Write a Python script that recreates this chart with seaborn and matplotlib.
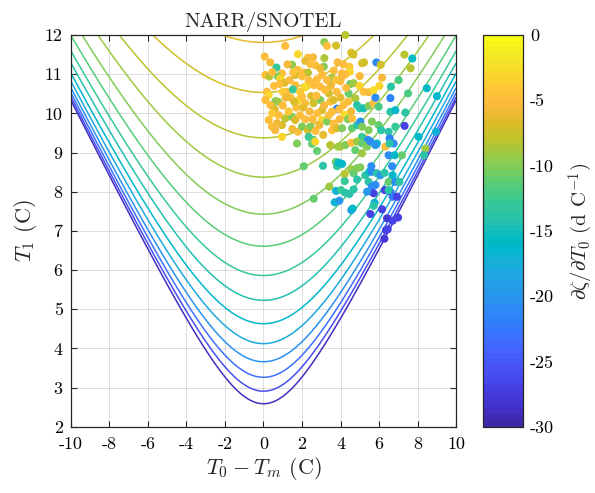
"""
Snowmelt-timing sensitivity, NARR/SNOTEL sites.

Contours: d(zeta)/dT0 of the seasonal-cycle melt model, plotted over
(T0 - Tm, T1).  Dots: individual SNOTEL sites, coloured by their fitted
sensitivity.  Writes out.png.
"""
import numpy as np
import pandas as pd
import matplotlib
matplotlib.use("Agg")
import matplotlib.pyplot as plt
from matplotlib.colors import ListedColormap, Normalize
from matplotlib.cm import ScalarMappable
import seaborn as sns


# ----------------------------------------------------------------------
# Data
# ----------------------------------------------------------------------
# melt-model scale (days) and the contour levels drawn (d C^-1)
MELT_SCALE_DAYS = 75.0
SENS_LEVELS = [-29.0, -25.8, -23.0, -20.5, -18.2, -16.2, -14.35,
               -12.8, -11.35, -10.1, -8.96, -8.0, -7.12, -6.35]

# site T0 - Tm (C)
site_dT = [
    4.25, 1.13, 3.16, 3.30, 3.77, 1.79, 2.31, 2.57, 2.17, 3.16,
    4.56, 4.67, 5.86, 6.09, 7.32, 7.73, 7.64, 0.06, 5.12, 5.22,
    2.43, 2.69, 1.48, 0.67, 1.78, 2.12, 2.31, 3.13, 3.65, 4.08,
    4.46, 4.48, 4.25, 3.56, 3.61, 3.04, 2.78, 1.65, 0.96, 0.75,
    0.10, 0.30, 0.87, 1.10, 1.65, 2.26, 2.14, 2.62, 2.95, 3.99,
    4.08, 4.51, 4.68, 4.99, 5.20, 5.46, 5.72, 6.02, 6.16, 6.62,
    7.02, 7.51, 8.48, 6.59, 9.01, 0.18, 0.27, 0.62, 0.75, 0.36,
    0.58, 0.10, 1.22, 1.53, 1.83, 2.00, 2.17, 2.48, 2.60, 2.95,
    3.04, 3.39, 3.47, 3.64, 3.82, 3.94, 3.56, 4.16, 4.39, 4.42,
    4.77, 4.86, 5.00, 5.20, 5.46, 5.72, 5.98, 5.81, 6.59, 6.85,
    7.37, 0.27, 0.44, 0.61, 0.96, 0.96, 1.13, 1.48, 1.65, 1.79,
    2.17, 2.00, 2.31, 2.43, 2.35, 2.60, 3.04, 3.30, 3.64, 3.56,
    3.82, 4.08, 4.22, 4.39, 4.60, 4.60, 4.86, 5.03, 5.12, 5.29,
    5.12, 5.46, 5.63, 5.98, 6.11, 6.50, 6.85, 7.33, 8.06, 8.96,
    5.43, 5.89, 6.55, 6.76, 1.74, 2.52, 2.69, 3.47, 3.99, 4.25,
    4.56, 4.86, 5.12, 5.38, 5.55, 5.81, 6.33, 6.55, 2.78, 3.87,
    4.77, 5.12, 6.50, 6.81, 7.19, 8.41, 8.34, 2.09, 3.09, 3.76,
    3.82, 3.90, 4.08, 4.22, 4.56, 4.68, 4.86, 5.03, 5.29, 5.50,
    5.60, 5.63, 5.89, 6.07, 6.29, 6.50, 6.68, 6.71, 6.85, 7.06,
    4.22, 4.86, 5.46, 5.81, 5.63, 5.72, 6.30, 6.59, 6.71, 6.93,
    6.50, 5.38, 3.42, 3.77, 4.03, 4.25, 4.46, 4.68, 2.61, 3.70,
    3.94, 4.56, 4.63, 5.77, 5.72, 5.55, 6.16, 6.42, 6.71, 6.99,
    6.36, 6.45, 6.28, 1.40, 1.00, 1.30, 1.70, 2.80, 3.20, 3.50,
    3.80, 2.40, 2.00, 1.90, 2.70, 3.10, 0.80, 1.50, 4.00, 3.30,
    1.25, 1.00, 0.55, 0.45, 0.85, 1.35, 1.90, 2.35, 2.75, 3.15,
    3.40, 3.75, 4.30, 4.55, 2.05, 1.60, 1.15, 0.45, 0.70, 2.55,
    2.90, 3.95, 4.15, 1.55, 2.95, 3.85, 0.35, 5.00,
]

# site T1 (C)
site_T1 = [
    12.00, 11.72, 11.82, 11.72, 11.73, 11.51, 11.42, 11.43, 11.34, 11.41,
    11.55, 11.50, 11.30, 11.24, 11.50, 11.40, 11.15, 11.45, 11.28, 11.30,
    11.26, 11.23, 11.24, 11.17, 11.11, 11.04, 11.04, 11.19, 11.09, 11.02,
    11.19, 11.06, 10.99, 10.91, 10.83, 10.98, 10.87, 10.98, 11.02, 10.94,
    10.98, 10.94, 10.89, 10.78, 10.72, 10.70, 10.66, 10.72, 10.68, 10.82,
    10.94, 10.75, 10.77, 10.70, 10.55, 10.54, 10.59, 10.70, 10.91, 10.68,
    10.85, 10.51, 10.64, 10.39, 10.44, 10.55, 10.47, 10.31, 10.30, 10.21,
    10.10, 10.34, 10.55, 10.61, 10.34, 10.43, 10.26, 10.44, 10.26, 10.34,
    10.08, 10.51, 10.30, 10.34, 10.12, 10.10, 10.04, 10.21, 10.30, 10.51,
    10.38, 10.21, 10.13, 10.13, 10.19, 10.26, 10.17, 10.40, 10.04, 10.08,
    10.02, 9.83, 9.66, 9.57, 9.70, 9.40, 9.87, 9.91, 9.83, 9.53,
    9.85, 9.66, 9.57, 9.66, 9.40, 9.32, 9.83, 9.79, 9.74, 9.57,
    9.62, 9.62, 9.96, 9.85, 9.87, 9.62, 9.70, 9.79, 9.66, 9.36,
    9.40, 9.57, 9.79, 9.70, 9.57, 9.53, 9.66, 9.68, 9.40, 9.53,
    9.32, 9.23, 9.36, 9.23, 9.23, 9.22, 9.28, 9.19, 9.15, 9.19,
    9.25, 9.28, 9.23, 9.15, 9.28, 9.19, 9.15, 9.23, 9.04, 9.15,
    9.06, 8.98, 8.93, 8.93, 8.93, 9.10, 8.93, 8.65, 8.66, 8.76,
    8.65, 8.74, 8.71, 8.45, 8.57, 8.47, 8.60, 8.62, 8.42, 8.51,
    8.65, 8.51, 8.47, 8.42, 8.48, 8.25, 8.65, 8.42, 8.25, 8.25,
    8.27, 8.31, 8.25, 8.17, 8.13, 7.96, 8.04, 8.00, 7.87, 7.87,
    8.04, 8.00, 8.13, 8.02, 8.04, 7.97, 7.94, 8.06, 7.82, 7.73,
    7.77, 7.53, 7.57, 7.72, 7.64, 7.43, 7.55, 7.32, 7.26, 7.34,
    7.02, 7.04, 6.80, 10.40, 10.20, 10.05, 10.15, 10.00, 10.60, 10.70,
    10.55, 10.05, 10.95, 9.95, 9.55, 9.45, 9.95, 9.60, 10.40, 10.85,
    11.25, 10.55, 10.70, 11.05, 10.75, 10.85, 10.55, 10.85, 10.45, 10.20,
    9.95, 10.85, 10.65, 10.05, 10.15, 10.30, 10.40, 10.00, 9.75, 9.85,
    9.70, 9.85, 11.25, 11.05, 11.15, 11.30, 11.30, 10.95,
]

# site d(zeta)/dT0 (d C^-1)
site_sens = [
    -8.0, -5.0, -9.5, -5.0, -7.5, -3.0, -5.0, -5.5, -6.5, -8.5,
    -7.0, -7.5, -21.0, -7.5, -8.0, -15.5, -8.0, -5.0, -7.0, -7.5,
    -5.0, -5.0, -9.5, -13.0, -5.0, -5.0, -8.0, -10.0, -5.0, -5.5,
    -4.0, -3.0, -5.0, -8.5, -10.0, -5.0, -5.0, -7.0, -5.0, -10.0,
    -5.0, -8.0, -3.0, -7.0, -5.0, -3.0, -2.5, -5.0, -5.0, -5.0,
    -5.5, -11.0, -9.0, -3.0, -5.0, -5.5, -2.5, -3.0, -5.5, -14.0,
    -12.0, -12.0, -16.0, -22.0, -16.0, -5.0, -3.0, -10.0, -9.0, -5.0,
    -7.0, -5.0, -5.0, -13.0, -3.0, -5.0, -5.0, -7.0, -7.5, -10.0,
    -7.0, -7.5, -5.0, -7.0, -22.0, -5.0, -5.0, -5.0, -5.0, -11.0,
    -8.5, -14.0, -14.0, -15.0, -10.0, -5.0, -12.0, -21.0, -14.0, -16.0,
    -14.0, -5.0, -5.0, -5.5, -7.0, -3.0, -8.0, -10.0, -7.0, -5.0,
    -5.0, -10.0, -7.0, -10.0, -13.0, -12.0, -3.0, -10.0, -5.0, -5.0,
    -7.0, -10.0, -2.5, -10.0, -5.0, -11.0, -14.0, -20.0, -10.0, -5.0,
    -13.0, -10.0, -10.0, -11.0, -14.0, -14.0, -13.0, -27.0, -16.0, -17.0,
    -21.0, -16.0, -22.0, -21.0, -10.0, -11.0, -3.0, -8.0, -8.0, -10.0,
    -5.0, -9.0, -11.0, -10.0, -21.0, -20.0, -5.0, -14.0, -11.0, -9.0,
    -11.0, -9.0, -21.0, -16.0, -11.0, -9.0, -14.0, -11.0, -14.0, -11.0,
    -13.0, -16.0, -16.0, -8.0, -9.0, -11.0, -10.0, -10.0, -14.0, -16.0,
    -21.0, -21.0, -14.0, -20.0, -14.0, -11.0, -21.0, -16.0, -21.0, -14.0,
    -13.0, -14.0, -14.0, -21.0, -21.0, -27.0, -27.0, -24.0, -22.0, -27.0,
    -14.0, -20.0, -9.0, -17.0, -13.0, -14.0, -14.0, -14.0, -11.0, -17.0,
    -20.0, -20.0, -16.0, -17.0, -14.0, -27.0, -27.0, -28.0, -27.0, -27.0,
    -27.0, -27.0, -28.0, -5.0, -5.0, -4.0, -5.0, -5.0, -5.0, -6.0,
    -5.0, -5.5, -5.0, -5.0, -5.0, -6.5, -5.0, -6.0, -6.5, -5.0,
    -5.5, -4.0, -5.0, -5.0, -5.0, -5.5, -4.0, -5.0, -5.0, -5.5,
    -5.0, -4.5, -5.0, -6.0, -6.5, -7.0, -6.0, -4.0, -6.0, -5.0,
    -6.0, -5.5, -5.0, -4.5, -6.0, -5.5, -6.0, -5.5,
]

X_TICKS = list(range(-10, 11, 2))
Y_TICKS = list(range(2, 13))
CBAR_TICKS = [0, -5, -10, -15, -20, -25, -30]
SENS_RANGE = (-30, 0)


# ----------------------------------------------------------------------
# MATLAB parula (64 entries)
# ----------------------------------------------------------------------
PARULA = ListedColormap([
    [0.2422, 0.1504, 0.6603], [0.2504, 0.1650, 0.7076], [0.2578, 0.1818, 0.7511],
    [0.2647, 0.1978, 0.7952], [0.2706, 0.2147, 0.8364], [0.2751, 0.2342, 0.8710],
    [0.2783, 0.2559, 0.8991], [0.2803, 0.2782, 0.9221], [0.2813, 0.3006, 0.9414],
    [0.2810, 0.3228, 0.9579], [0.2795, 0.3447, 0.9717], [0.2760, 0.3667, 0.9829],
    [0.2699, 0.3892, 0.9906], [0.2602, 0.4123, 0.9952], [0.2440, 0.4358, 0.9988],
    [0.2206, 0.4603, 0.9973], [0.1963, 0.4847, 0.9892], [0.1834, 0.5074, 0.9798],
    [0.1786, 0.5289, 0.9682], [0.1764, 0.5499, 0.9520], [0.1687, 0.5703, 0.9359],
    [0.1540, 0.5902, 0.9218], [0.1460, 0.6091, 0.9079], [0.1380, 0.6276, 0.8973],
    [0.1248, 0.6459, 0.8883], [0.1113, 0.6635, 0.8763], [0.0952, 0.6798, 0.8598],
    [0.0689, 0.6948, 0.8394], [0.0297, 0.7082, 0.8163], [0.0036, 0.7203, 0.7917],
    [0.0067, 0.7312, 0.7660], [0.0433, 0.7411, 0.7394], [0.0964, 0.7500, 0.7120],
    [0.1408, 0.7584, 0.6842], [0.1717, 0.7670, 0.6554], [0.1938, 0.7758, 0.6251],
    [0.2161, 0.7843, 0.5923], [0.2470, 0.7918, 0.5567], [0.2906, 0.7973, 0.5188],
    [0.3406, 0.8008, 0.4789], [0.3909, 0.8029, 0.4354], [0.4456, 0.8024, 0.3909],
    [0.5044, 0.7993, 0.3480], [0.5616, 0.7942, 0.3045], [0.6174, 0.7876, 0.2612],
    [0.6720, 0.7793, 0.2227], [0.7242, 0.7698, 0.1910], [0.7738, 0.7598, 0.1646],
    [0.8203, 0.7498, 0.1535], [0.8634, 0.7406, 0.1596], [0.9035, 0.7330, 0.1774],
    [0.9393, 0.7288, 0.2100], [0.9728, 0.7298, 0.2394], [0.9956, 0.7434, 0.2371],
    [0.9970, 0.7659, 0.2199], [0.9952, 0.7893, 0.2028], [0.9892, 0.8136, 0.1885],
    [0.9786, 0.8386, 0.1766], [0.9676, 0.8639, 0.1643], [0.9610, 0.8890, 0.1537],
    [0.9597, 0.9135, 0.1423], [0.9628, 0.9373, 0.1265], [0.9691, 0.9606, 0.1064],
    [0.9769, 0.9839, 0.0805],
], name="parula")


def model_sensitivity(dT, T1):
    """d(zeta)/dT0 for a sinusoidal cycle; undefined where |T0-Tm| >= T1."""
    with np.errstate(invalid="ignore", divide="ignore"):
        out = -MELT_SCALE_DAYS / np.sqrt(T1 ** 2 - dT ** 2)
    out[T1 <= np.abs(dT)] = np.nan
    return out


def main():
    sns.set_style("ticks")
    plt.rcParams["font.family"] = ["cmr10", "DejaVu Serif"]
    plt.rcParams["mathtext.fontset"] = "cm"
    plt.rcParams["axes.unicode_minus"] = False
    plt.rcParams["axes.formatter.use_mathtext"] = False

    fig = plt.figure(figsize=(5.95, 4.93), dpi=100)
    ax = fig.add_axes([0.1193, 0.1345, 0.6471, 0.7945])
    cax = fig.add_axes([0.8123, 0.1345, 0.0672, 0.7945])

    norm = Normalize(*SENS_RANGE)

    # --- model contours ---
    gx, gy = np.meshgrid(np.linspace(-10, 10, 801), np.linspace(2, 12, 801))
    field = model_sensitivity(gx, gy)
    ax.contour(gx, gy, field, levels=sorted(SENS_LEVELS), cmap=PARULA,
               norm=norm, linewidths=1.1, zorder=2)

    # --- sites ---
    df = pd.DataFrame({"dT": site_dT, "T1": site_T1, "sens": site_sens})
    sns.scatterplot(data=df, x="dT", y="T1", hue="sens", palette=PARULA,
                    hue_norm=norm, s=34, linewidth=0, legend=False,
                    ax=ax, zorder=3, clip_on=False)

    ax.set_xlim(-10, 10)
    ax.set_ylim(2, 12)
    ax.set_xticks(X_TICKS)
    ax.set_yticks(Y_TICKS)
    ax.grid(True, color="0.15", alpha=0.15, lw=0.7)
    ax.set_axisbelow(True)
    ax.tick_params(direction="in", length=4, width=0.8, top=True, right=True,
                   labelsize=13, colors="0.15", labelcolor="black")
    ax.tick_params(axis="x", pad=7)
    ax.tick_params(axis="y", pad=6)
    for sp in ax.spines.values():
        sp.set_color("0.15")
        sp.set_linewidth(0.9)

    ax.set_xlabel(r"$T_0 - T_m$ (C)", fontsize=16, labelpad=2)
    ax.set_ylabel(r"$T_1$ (C)", fontsize=16, labelpad=4)
    ax.set_title("NARR/SNOTEL", fontsize=15, pad=6)

    # --- colorbar ---
    cb = fig.colorbar(ScalarMappable(norm=norm, cmap=PARULA), cax=cax,
                      ticks=CBAR_TICKS)
    cb.ax.set_yticklabels([str(t) for t in CBAR_TICKS])
    cb.ax.tick_params(direction="in", length=3, width=0.8, labelsize=13,
                      colors="0.15", labelcolor="black", pad=5)
    cb.outline.set_edgecolor("0.15")
    cb.outline.set_linewidth(0.9)
    cb.set_label(r"$\partial\zeta/\partial T_0$ (d C$^{-1}$)", fontsize=15,
                 labelpad=9)

    fig.savefig("out.png", dpi=100)
    plt.close(fig)


if __name__ == "__main__":
    main()
